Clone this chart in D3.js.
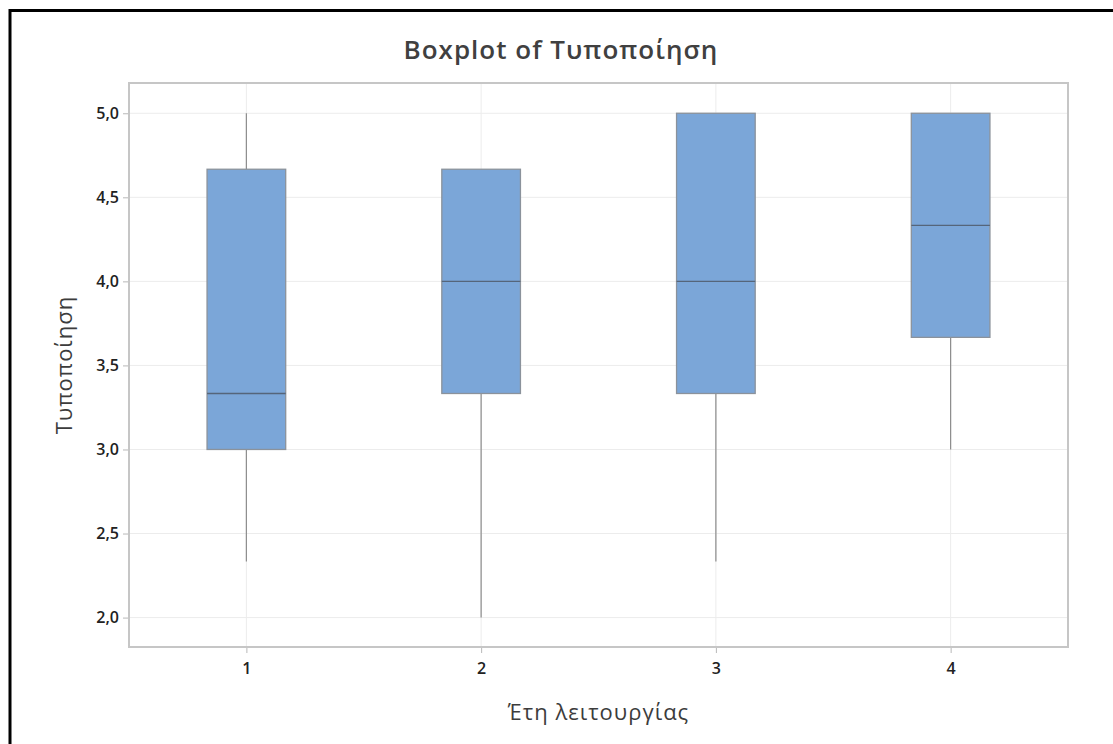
<!DOCTYPE html>
<html lang="el">
<head>
<meta charset="UTF-8">
<title>Boxplot of Τυποποίηση</title>
<script src="https://d3js.org/d3.v7.min.js"></script>
<style>
  body { margin: 0; background: #fff; }
  text { font-family: "Open Sans", "Noto Sans", sans-serif; }
</style>
</head>
<body>
<svg id="chart" width="1113" height="744"></svg>
<script>
// Data
const categories = ["1", "2", "3", "4"];
const whiskerLow = [2.333, 2.0, 2.333, 3.0];
const q1 = [3.0, 3.333, 3.333, 3.667];
const median = [3.333, 4.0, 4.0, 4.333];
const q3 = [4.667, 4.667, 5.0, 5.0];
const whiskerHigh = [5.0, 4.667, 5.0, 5.0];
const yTicks = [2.0, 2.5, 3.0, 3.5, 4.0, 4.5, 5.0];

const svg = d3.select("#chart");
const W = 1113, H = 744;
const plot = { left: 129, right: 1068, top: 83, bottom: 647 };

// frame (top + left edge only, like the cropped screenshot)
svg.append("path")
    .attr("d", `M10,${H} L10,10.5 L${W},10.5`)
    .attr("fill", "none").attr("stroke", "#000").attr("stroke-width", 3);

const x = d3.scaleLinear().domain([0.5, 4.5]).range([plot.left, plot.right]);
const y = d3.scaleLinear().domain([1.825, 5.18]).range([plot.bottom, plot.top]);
const boxW = (x(1.335) - x(1));

// gridlines
svg.append("g").selectAll("line").data(yTicks).join("line")
    .attr("x1", plot.left).attr("x2", plot.right)
    .attr("y1", d => y(d)).attr("y2", d => y(d))
    .attr("stroke", "#ececec").attr("stroke-width", 1);
svg.append("g").selectAll("line").data(categories).join("line")
    .attr("x1", (d, i) => x(i + 1)).attr("x2", (d, i) => x(i + 1))
    .attr("y1", plot.top).attr("y2", plot.bottom)
    .attr("stroke", "#ececec").attr("stroke-width", 1);

// axes
const yAxis = d3.axisLeft(y).tickValues(yTicks)
    .tickFormat(d => d3.format(".1f")(d).replace(".", ","))
    .tickSize(6).tickPadding(4);
const gy = svg.append("g").attr("transform", `translate(${plot.left},0)`).call(yAxis);
const xAxis = d3.axisBottom(x).tickValues([1, 2, 3, 4])
    .tickFormat((d, i) => categories[i]).tickSize(6).tickPadding(10);
const gx = svg.append("g").attr("transform", `translate(0,${plot.bottom})`).call(xAxis);
[gy, gx].forEach(g => {
    g.select(".domain").remove();
    g.selectAll(".tick line").attr("stroke", "#b8b8b8");
    g.selectAll(".tick text").attr("fill", "#222")
        .style("font-size", "16px").style("font-weight", 600);
});

// plot border
svg.append("rect")
    .attr("x", plot.left).attr("y", plot.top)
    .attr("width", plot.right - plot.left).attr("height", plot.bottom - plot.top)
    .attr("fill", "none").attr("stroke", "#c6c6c6").attr("stroke-width", 2);

// boxes
const rows = categories.map((c, i) => ({
    pos: i + 1, lo: whiskerLow[i], q1: q1[i], med: median[i], q3: q3[i], hi: whiskerHigh[i]
}));
const g = svg.append("g");
g.selectAll(".wlo").data(rows).join("line")
    .attr("x1", d => x(d.pos)).attr("x2", d => x(d.pos))
    .attr("y1", d => y(d.lo)).attr("y2", d => y(d.q1))
    .attr("stroke", "#8c8c8c").attr("stroke-width", 1.2);
g.selectAll(".whi").data(rows.filter(d => d.hi > d.q3)).join("line")
    .attr("x1", d => x(d.pos)).attr("x2", d => x(d.pos))
    .attr("y1", d => y(d.hi)).attr("y2", d => y(d.q3))
    .attr("stroke", "#8c8c8c").attr("stroke-width", 1.2);
g.selectAll("rect").data(rows).join("rect")
    .attr("x", d => x(d.pos) - boxW / 2).attr("width", boxW)
    .attr("y", d => y(d.q3)).attr("height", d => y(d.q1) - y(d.q3))
    .attr("fill", "#7ba6d8").attr("stroke", "#8b929b").attr("stroke-width", 1.3);
g.selectAll(".med").data(rows).join("line")
    .attr("x1", d => x(d.pos) - boxW / 2).attr("x2", d => x(d.pos) + boxW / 2)
    .attr("y1", d => y(d.med)).attr("y2", d => y(d.med))
    .attr("stroke", "#55657a").attr("stroke-width", 1.3);

// titles
svg.append("text").attr("x", 561).attr("y", 59).attr("text-anchor", "middle")
    .style("font-size", "26px").style("font-weight", 600).style("letter-spacing", "1px")
    .attr("fill", "#404040")
    .text("Boxplot of Τυποποίηση");
svg.append("text").attr("x", (plot.left + plot.right) / 2).attr("y", 720).attr("text-anchor", "middle")
    .style("font-size", "22px").style("letter-spacing", "1px").attr("fill", "#3c3c3c")
    .text("Έτη λειτουργίας");
svg.append("text")
    .attr("transform", `translate(72,${(plot.top + plot.bottom) / 2}) rotate(-90)`)
    .attr("text-anchor", "middle")
    .style("font-size", "22px").style("letter-spacing", "1px").attr("fill", "#3c3c3c")
    .text("Τυποποίηση");
</script>
</body>
</html>
